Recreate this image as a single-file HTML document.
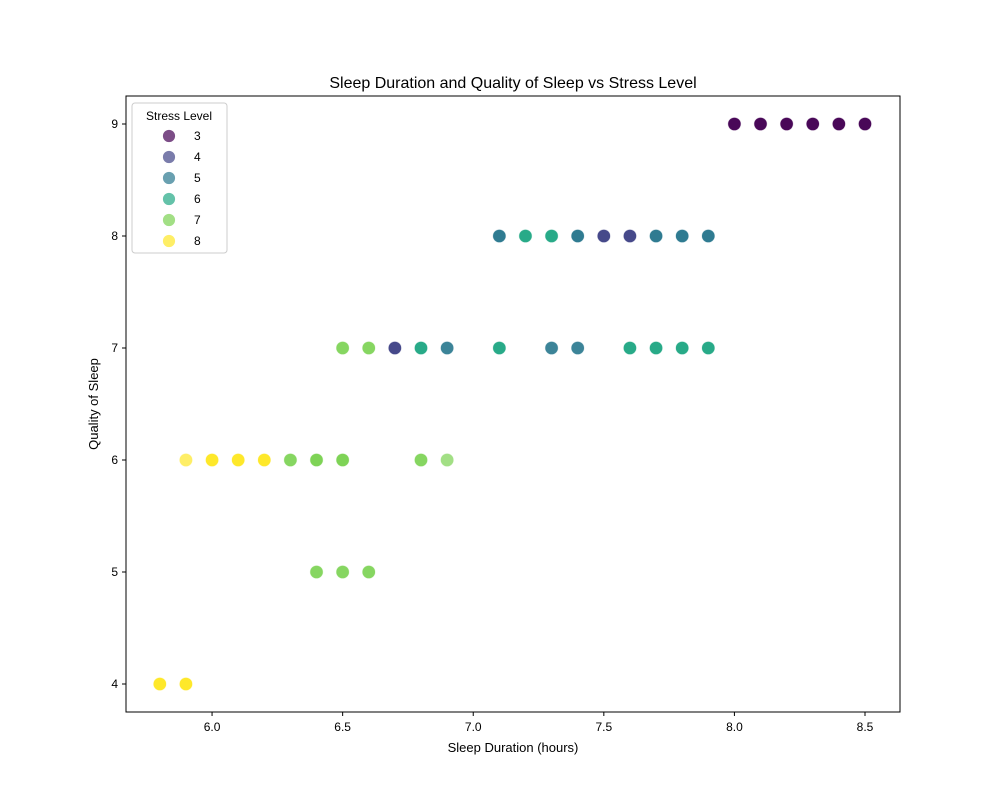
<!DOCTYPE html>
<html><head><meta charset="utf-8"><style>
body{margin:0;background:#fff;}
svg text{font-family:"Liberation Sans","DejaVu Sans",sans-serif;}
</style></head><body>
<svg id="chart" width="1000" height="800" xmlns="http://www.w3.org/2000/svg"></svg>
<script>
const sleepDuration=[8.0,8.1,8.2,8.3,8.4,8.5,
 7.1,7.2,7.3,7.4,7.5,7.6,7.7,7.8,7.9,
 6.5,6.6,6.7,6.8,6.9,7.1,7.3,7.4,7.6,7.7,7.8,7.9,
 5.9,6.0,6.1,6.2,6.3,6.4,6.5,6.8,6.9,
 6.4,6.5,6.6,
 5.8,5.9];
const sleepQuality=[9,9,9,9,9,9,
 8,8,8,8,8,8,8,8,8,
 7,7,7,7,7,7,7,7,7,7,7,7,
 6,6,6,6,6,6,6,6,6,
 5,5,5,
 4,4];
const stressLevel=[3,3,3,3,3,3,
 5,6,6,5,4,4,5,5,5,
 7,7,4,6,5,6,5,5,6,6,6,6,
 8,8,8,8,7,7,7,7,7,
 7,7,7,
 8,8];
const overlapCount=[3,3,3,3,3,3,
 3,3,3,3,3,3,3,3,3,
 2,2,3,3,2,3,2,2,3,3,3,3,
 1,3,3,3,2,3,3,2,1,
 2,2,2,
 3,3];
const xTicks=[6.0,6.5,7.0,7.5,8.0,8.5];
const yTicks=[4,5,6,7,8,9];
const legendLevels=[3,4,5,6,7,8];
const colorMap={3:"#440154",4:"#414487",5:"#2a788e",6:"#22a884",7:"#7ad151",8:"#fde725"};

const L=126,R=900,T=96,B=712;
const xMin=5.6705,xMax=8.634,yMin=3.75,yMax=9.25;
const sx=v=>L+(v-xMin)/(xMax-xMin)*(R-L);
const sy=v=>B-(v-yMin)/(yMax-yMin)*(B-T);
const svg=document.getElementById('chart');
const NS="http://www.w3.org/2000/svg";
function mk(tag,attrs,parent){const e=document.createElementNS(NS,tag);for(const k in attrs)e.setAttribute(k,attrs[k]);(parent||svg).appendChild(e);return e;}
function txt(s,attrs){const e=mk('text',attrs);e.textContent=s;return e;}

const t=txt("Sleep Duration and Quality of Sleep vs Stress Level",{x:(L+R)/2,y:88,'text-anchor':'middle','font-size':16,fill:'#000'});



const gp=mk('g',{});


for(let i=0;i<sleepDuration.length;i++){
 for(let k=0;k<overlapCount[i];k++){
  const c=mk('circle',{cx:sx(sleepDuration[i]),cy:sy(sleepQuality[i]),r:6.7,fill:colorMap[stressLevel[i]],'fill-opacity':0.7,stroke:'#fff','stroke-width':0.8,'stroke-opacity':0.7},gp);
  
  
 }
}

const frame=mk('rect',{x:L,y:T,width:R-L,height:B-T,fill:'none',stroke:'#000','stroke-width':1});



xTicks.forEach(v=>{
 const x=sx(v);
 const ln=mk('line',{x1:x,x2:x,y1:B,y2:B+4,stroke:'#000'});
 
 
 const lb=txt(v.toFixed(1),{x:x,y:B+19,'text-anchor':'middle','font-size':12});
 
 
});
yTicks.forEach(v=>{
 const y=sy(v);
 const ln=mk('line',{x1:L-4,x2:L,y1:y,y2:y,stroke:'#000'});
 
 
 const lb=txt(String(v),{x:L-8,y:y+4,'text-anchor':'end','font-size':12});
 
 
});
const xt=txt("Sleep Duration (hours)",{x:(L+R)/2,y:752,'text-anchor':'middle','font-size':13});


const yt=txt("Quality of Sleep",{x:0,y:0,'text-anchor':'middle','font-size':13,transform:`translate(98,${(T+B)/2}) rotate(-90)`});



const lg=mk('g',{});


mk('rect',{x:132,y:103,width:95,height:150,rx:3,fill:'#fff','fill-opacity':0.8,stroke:'#ccc'},lg);
const lt=txt("Stress Level",{x:179,y:120,'text-anchor':'middle','font-size':12});


legendLevels.forEach((lv,i)=>{
 const y=136+i*21;
 const c=mk('circle',{cx:169,cy:y,r:6.5,fill:colorMap[lv],'fill-opacity':0.7,stroke:'#fff','stroke-width':0.8},lg);
 
 
 const l=txt(String(lv),{x:194,y:y+4,'font-size':12});
 
 
});
</script>
</body></html>
